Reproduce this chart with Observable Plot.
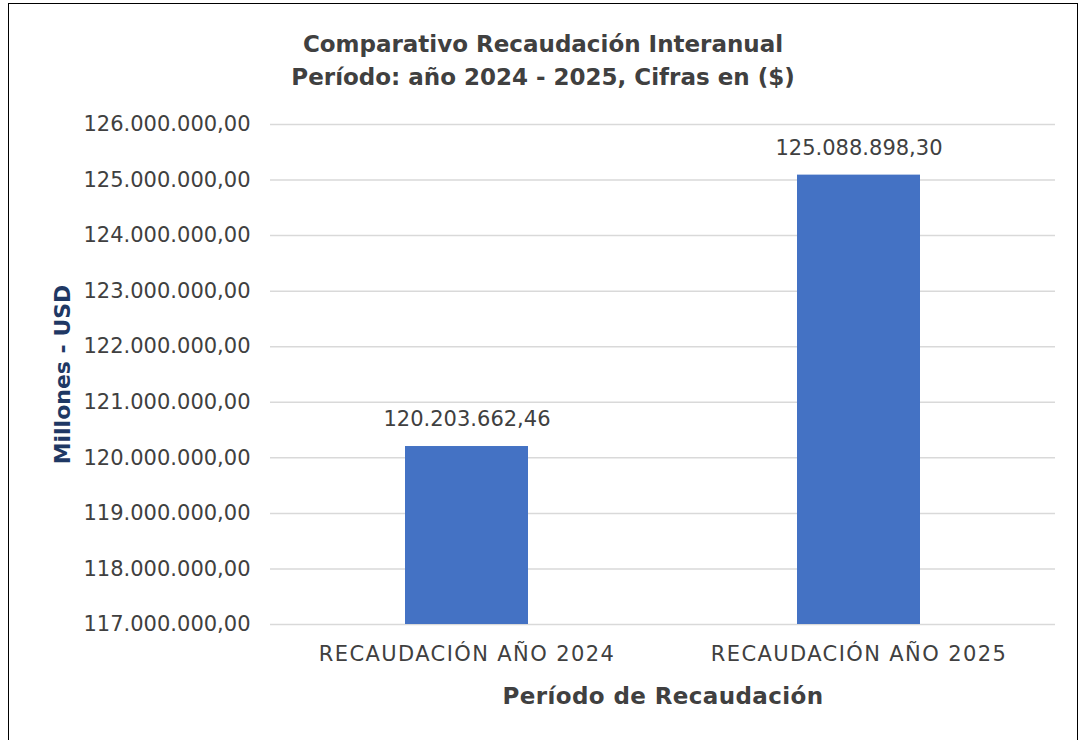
<!DOCTYPE html>
<html><head><meta charset="utf-8">
<script src="https://cdn.jsdelivr.net/npm/d3@7"></script>
<script src="https://cdn.jsdelivr.net/npm/@observablehq/plot@0.6"></script>
<style>
body{margin:0;background:#fff;font-family:"DejaVu Sans",sans-serif;}
#box{position:absolute;left:8px;top:3px;width:1068px;height:760px;border:1.5px solid #000;background:#fff;overflow:hidden;}
#title{position:absolute;left:0;top:24px;width:1068px;text-align:center;font-weight:bold;font-size:23px;line-height:33px;color:#404040;}
#chart{position:absolute;left:0;top:97px;}
</style></head><body>
<div id="box"><div id="title">Comparativo Recaudación Interanual<br>Período: año 2024 - 2025, Cifras en ($)</div><div id="chart"></div></div>
<script>
const categories = ["RECAUDACIÓN AÑO 2024", "RECAUDACIÓN AÑO 2025"];
const values = [120203662.46, 125088898.30];
const yTicks = [117e6,118e6,119e6,120e6,121e6,122e6,123e6,124e6,125e6,126e6];
const data = categories.map((c,i)=>({cat:c, value:values[i]}));
const loc = d3.formatLocale({decimal:",", thousands:".", grouping:[3], currency:["$",""]});
const fmt = loc.format(",.2f");
const plot = Plot.plot({
  width:1068, height:649,
  marginLeft:261, marginRight:22, marginTop:23, marginBottom:126,
  style:{fontFamily:"'DejaVu Sans', sans-serif", fontSize:"21px", color:"#595959", background:"transparent"},
  x:{domain:categories, paddingInner:0.687, paddingOuter:0.343, label:null},
  y:{domain:[117e6,126e6], label:null},
  marks:[
    Plot.gridY(yTicks,{stroke:"#d9d9d9", strokeOpacity:1, strokeWidth:1.5}),
    Plot.barY(data,{x:"cat", y1:117e6, y2:"value", fill:"#4472C4"}),
    Plot.text(data,{x:"cat", y:"value", text:d=>fmt(d.value), dy:-27, fill:"#404040", fontSize:21}),
    Plot.axisY(yTicks,{tickSize:0, tickPadding:20, tickFormat:fmt, fill:"#404040", label:"Millones - USD", labelArrow:"none", labelAnchor:"center", labelOffset:216}),
    Plot.axisX({tickSize:0, tickPadding:22, fill:"#404040", label:"Período de Recaudación", labelArrow:"none", labelAnchor:"center", labelOffset:79}),
  ]
});
document.getElementById("chart").appendChild(plot);
const svg = d3.select(plot);
svg.selectAll("[aria-label='x-axis tick label'] text").attr("letter-spacing","1.4px");
svg.selectAll("[aria-label='y-axis label'] text").attr("fill","#1F3864").attr("font-weight","bold").attr("font-size","22px");
svg.selectAll("[aria-label='x-axis label'] text").attr("fill","#404040").attr("font-weight","bold").attr("font-size","23px").attr("letter-spacing","0.4px");
</script></body></html>
